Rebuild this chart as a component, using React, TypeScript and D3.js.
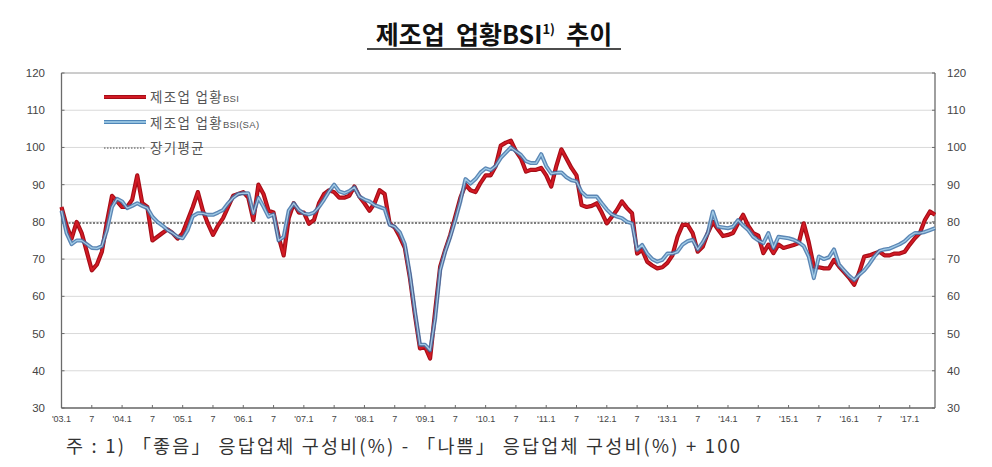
import React from "react";
import * as d3 from "d3";

// Monthly data, 2003.1 – 2017.6
const startYear = 2003;
const redValues: number[] = [
  84, 79, 75.5, 80, 77, 72, 67, 68.5, 72, 80, 87, 85.5,
  84, 84, 86, 92.5, 85, 84, 75, 76, 77, 78, 77, 75.5,
  77, 80.5, 84, 88, 83, 79.5, 76.5, 79, 81, 84, 87, 87.5,
  88, 86.5, 80.5, 90, 87.5, 83, 82.5, 76, 71, 81, 85, 82.5,
  82.5, 79.5, 80.5, 85, 87.5, 88.5, 88, 86.5, 86.5, 87, 89.5, 86.8,
  85, 83, 85, 88.5, 87.5, 79.5, 78.5, 76, 73, 65, 55, 46,
  46.5, 43.3, 56, 68, 72.5, 76.5, 81.5, 86.5, 90, 88.5, 88, 90.5,
  92.5, 92.5, 95, 100.5, 101.3, 101.8, 99, 97, 93.5, 94, 94, 94.5,
  92.5, 89.5, 95, 99.5, 97, 94.5, 92.5, 84.5, 84, 84.3, 85, 82.5,
  79.6, 81.4, 83.2, 85.5, 83.7, 82.3, 71.5, 72.5, 69.3, 68.3, 67.5, 67.8,
  69, 71, 76, 79.2, 79.2, 77, 72, 73.3, 77, 80, 78, 76.2,
  76.5, 77, 79.6, 81.9, 79, 77, 76.3, 71.6, 73.9, 71.6, 73.9, 73,
  73.4, 73.8, 74.3, 79.6, 74.5, 68, 67.8, 67.5, 67.5, 69.8, 68, 66.5,
  65, 63.1, 66.5, 70.7, 71, 71.5, 72, 71, 71, 71.5, 71.5, 72,
  73.9, 75.6, 77, 80.5, 82.8, 81.9,
];
const saValues: number[] = [
  83, 77, 74, 75, 75, 74, 73, 72.9, 73.5, 77.8, 84, 86.2,
  85.5, 83.7, 84.3, 85, 84.3, 83.7, 81.4, 80, 79, 77.8, 77, 76,
  75.6, 77.8, 81.5, 82.3, 82.3, 81.9, 81.9, 82.5, 83.2, 85, 86.5, 87.5,
  87.7, 87.7, 82.3, 86.5, 84.1, 81.4, 82, 75, 76, 83, 85, 83.2,
  82.3, 82, 82.5, 84, 86, 88.2, 90, 88.2, 87.7, 88.3, 89.3, 86.8,
  86, 85.5, 84.5, 84, 83.5, 79.2, 78.7, 77.2, 74, 66, 56, 47,
  47, 45.5, 54, 67, 72, 76, 80.5, 85.5, 91.5, 90.3, 91.5, 93.3,
  94.4, 93.9, 95, 97.2, 98.6, 100, 99, 98, 96.3, 95.8, 95.8, 98.2,
  95, 93, 93.2, 93.3, 92, 91.2, 90.9, 88, 86.8, 86.8, 86.8, 85,
  83.3, 82, 81.4, 81, 80, 79.6, 72.5, 73.8, 71.5, 70, 69.3, 69.8,
  71.5, 71.5, 72, 73.9, 74.8, 75.2, 72.6, 74.5, 77, 82.8, 78.7, 78.5,
  78.3, 78.7, 80.5, 79, 77.8, 76, 75, 74.3, 77, 73, 76, 75.8,
  75.6, 75.2, 74.5, 73.5, 70.7, 64.9, 70.7, 70, 70.5, 72.6, 68.5, 67,
  65.5, 64.4, 65.8, 67, 68.7, 70.7, 72.2, 72.6, 72.8, 73.4, 74, 74.8,
  76.1, 77, 77, 77.3, 77.8, 78.3,
];
const longTermAvg = 79.7;
const yTicks: number[] = [30, 40, 50, 60, 70, 80, 90, 100, 110, 120];
const xTickLabels: string[] = [
  "'03.1", "7", "'04.1", "7", "'05.1", "7", "'06.1", "7", "'07.1", "7",
  "'08.1", "7", "'09.1", "7", "'10.1", "7", "'11.1", "7", "'12.1", "7",
  "'13.1", "7", "'14.1", "7", "'15.1", "7", "'16.1", "7", "'17.1",
];
const legendLabels: string[] = ["제조업 업황", "제조업 업황", "장기평균"];
const legendSuffix: string[] = ["BSI", "BSI(SA)", ""];

const W = 992;
const H = 467;
const left = 61.5;
const right = 935;
const top = 73;
const bottom = 408;

export default function App() {
  const n = redValues.length;
  const x = d3.scaleLinear().domain([0, n - 1]).range([left, right]);
  const y = d3.scaleLinear().domain([30, 120]).range([bottom, top]);
  const line = d3
    .line<number>()
    .x((_, i) => x(i))
    .y((d) => y(d));
  const redPath = line(redValues) || "";
  const saPath = line(saValues) || "";
  const axisFont = "Arial, 'Liberation Sans', sans-serif";
  const kFont = "'Noto Sans CJK KR', sans-serif";

  return (
    <svg
      width={W}
      height={H}
      style={{ position: "absolute", left: 0, top: 0, background: "#fff" }}
    >
      {/* Title */}
      <text
        x={494}
        y={44}
        textAnchor="middle"
        fontFamily={kFont}
        fontWeight={700}
        fontSize={25}
        fill="#111"
      >
        {"제조업\u00a0 업황BSI"}
        <tspan fontSize={13} dy={-10}>1)</tspan>
        <tspan dy={10}>{"\u00a0 추이"}</tspan>
      </text>
      <line x1={367} x2={621} y1={49} y2={49} stroke="#111" strokeWidth={1.5} />

      {/* Gridlines */}
      {yTicks.map((t) => (
        <line
          key={"g" + t}
          x1={left}
          x2={right}
          y1={y(t)}
          y2={y(t)}
          stroke={t === 120 ? "#9a9a9a" : "#d9d9d9"}
          strokeWidth={1}
        />
      ))}

      {/* Frame */}
      <line x1={left} x2={left} y1={top} y2={bottom} stroke="#6b6b6b" strokeWidth={1.3} />
      <line x1={right} x2={right} y1={top} y2={bottom} stroke="#6b6b6b" strokeWidth={1.3} />
      <line x1={left} x2={right} y1={bottom} y2={bottom} stroke="#6b6b6b" strokeWidth={1.3} />

      {/* Y ticks & labels */}
      {yTicks.map((t) => (
        <g key={"y" + t}>
          <line x1={left} x2={left + 3} y1={y(t)} y2={y(t)} stroke="#6b6b6b" />
          <line x1={right - 3} x2={right} y1={y(t)} y2={y(t)} stroke="#6b6b6b" />
          <text
            x={45}
            y={y(t) + 4}
            textAnchor="end"
            fontFamily={axisFont}
            fontSize={11.5}
            fill="#444"
          >
            {t}
          </text>
          <text
            x={947}
            y={y(t) + 4}
            textAnchor="start"
            fontFamily={axisFont}
            fontSize={11.5}
            fill="#444"
          >
            {t}
          </text>
        </g>
      ))}

      {/* X ticks & labels */}
      {xTickLabels.map((lab, i) => (
        <g key={"x" + i}>
          <line
            x1={x(i * 6)}
            x2={x(i * 6)}
            y1={bottom}
            y2={bottom - 3}
            stroke="#6b6b6b"
          />
          <text
            x={x(i * 6)}
            y={422}
            textAnchor="middle"
            fontFamily={axisFont}
            fontSize={9}
            fill="#444"
          >
            {lab}
          </text>
        </g>
      ))}

      {/* Long-term average */}
      <line
        x1={left}
        x2={right}
        y1={y(longTermAvg)}
        y2={y(longTermAvg)}
        stroke="#7f7f7f"
        strokeWidth={1.8}
        strokeDasharray="2 1.5"
      />

      {/* Series */}
      <path d={redPath} fill="none" stroke="#a50d17" strokeWidth={4.2} strokeLinejoin="round" />
      <path d={redPath} fill="none" stroke="#d21a24" strokeWidth={2} strokeLinejoin="round" />
      <path
        d={saPath}
        fill="none"
        stroke="#3f72a8"
        strokeOpacity={0.85}
        strokeWidth={4}
        strokeLinejoin="round"
      />
      <path
        d={saPath}
        fill="none"
        stroke="#a9d3ec"
        strokeOpacity={0.9}
        strokeWidth={1.3}
        strokeLinejoin="round"
      />

      {/* Legend */}
      <g>
        <line x1={104} x2={146} y1={97} y2={97} stroke="#a50d17" strokeWidth={4.2} />
        <line x1={104} x2={146} y1={97} y2={97} stroke="#d21a24" strokeWidth={2} />
        <line x1={104} x2={146} y1={122} y2={122} stroke="#4f86b8" strokeWidth={4} />
        <line x1={104} x2={146} y1={122} y2={122} stroke="#a9d3ec" strokeWidth={1.3} />
        <line
          x1={104}
          x2={146}
          y1={148}
          y2={148}
          stroke="#7f7f7f"
          strokeWidth={1.5}
          strokeDasharray="1.5 1.5"
        />
        {legendLabels.map((lab, i) => (
          <text
            key={"l" + i}
            x={150}
            y={102 + i * 25.5}
            fontFamily={kFont}
            fontSize={13.5}
            letterSpacing={1.3}
            fill="#555"
          >
            {lab}
            {legendSuffix[i] && (
              <tspan fontFamily={axisFont} fontSize={9.5} letterSpacing={0.3}>
                {legendSuffix[i]}
              </tspan>
            )}
          </text>
        ))}
      </g>

      {/* Footnote */}
      <text
        x={66}
        y={453}
        fontFamily={kFont}
        fontSize={18.5}
        fill="#333"
        textLength={674}
        lengthAdjust="spacing"
      >
        주 : 1) 「좋음」 응답업체 구성비(%) - 「나쁨」 응답업체 구성비(%) + 100
      </text>
    </svg>
  );
}
